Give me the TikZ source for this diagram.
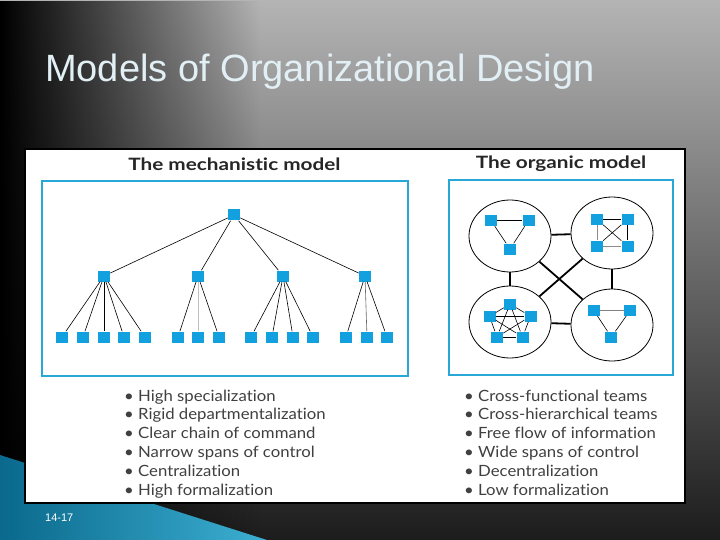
\documentclass[tikz,border=0pt]{standalone}
\usepackage{fontspec}
\setmainfont{Lato}[Ligatures=NoCommon]
\newfontfamily\titlefont{Liberation Sans}
\newfontfamily\headfont{Lato}[FakeStretch=1.22,Ligatures=NoCommon]
\newfontfamily\listfont{Lato}[FakeStretch=1.08,Ligatures=NoCommon]
\usetikzlibrary{shapes.geometric,fadings}
\definecolor{sqblue}{RGB}{18,160,222}
\definecolor{frameblue}{RGB}{40,168,214}
\definecolor{titlecol}{RGB}{226,240,246}
\definecolor{bgtop}{RGB}{180,180,180}
\definecolor{bgmid}{RGB}{130,130,130}
\definecolor{bgbot}{RGB}{28,28,28}
\definecolor{tealdark}{RGB}{10,105,140}
\definecolor{teallight}{RGB}{60,175,210}

\begin{document}
\begin{tikzpicture}[
x=1pt,y=-1pt,
sq/.style={rectangle,fill=sqblue,inner sep=0pt,minimum width=12pt,minimum height=11pt},
cl/.style={ellipse,draw,line width=0.8pt,minimum width=82pt,minimum height=72pt,inner sep=0pt},
edge/.style={line width=0.6pt},
link/.style={line width=1.8pt},
hd/.style={font=\headfont\bfseries\fontsize{17}{19}\selectfont,text=black!85},
item/.style={anchor=base west,font=\listfont\fontsize{15.5}{18}\selectfont,text=black!75,inner sep=0pt}
]
% slide background
\shade[top color=bgtop,middle color=bgmid,bottom color=bgbot] (0,0) rectangle (720,540);
\fill[black,path fading=east] (0,0) rectangle (260,540);
\shade[left color=tealdark,right color=teallight] (0,455) -- (267,540) -- (0,540) -- cycle;
\node[anchor=base west,font=\titlefont\fontsize{38}{40}\selectfont,text=titlecol,inner sep=0pt] (title) at (45,82) {Models of Organizational Design};
\node[anchor=base west,font=\titlefont\fontsize{11}{12}\selectfont,text=white,inner sep=0pt] (pg) at (45,521) {14-17};
% white panel
\draw[fill=white,line width=2pt] (25,149) rectangle (685,503);
\node[hd] (mhead) at (234.5,164) {The mechanistic model};
\node[hd] (ohead) at (561,164) {The organic model};
\draw[frameblue,line width=1.5pt] (42,181) rectangle (408,376);
\draw[frameblue,line width=1.5pt] (449,180) rectangle (673,375);
% mechanistic model
\node[sq] (top) at (234,215) {};
\node[sq] (m1) at (104,276) {};
\node[sq] (m2) at (198,276) {};
\node[sq] (m3) at (283,276) {};
\node[sq] (m4) at (365,276) {};
\node[sq] (b1) at (62,337) {};
\node[sq] (b2) at (83,337) {};
\node[sq] (b3) at (104,337) {};
\node[sq] (b4) at (124,337) {};
\node[sq] (b5) at (145,337) {};
\node[sq] (b6) at (178,337) {};
\node[sq] (b7) at (198,337) {};
\node[sq] (b8) at (219,337) {};
\node[sq] (b9) at (251,337) {};
\node[sq] (b10) at (272,337) {};
\node[sq] (b11) at (293,337) {};
\node[sq] (b12) at (313,337) {};
\node[sq] (b13) at (346,337) {};
\node[sq] (b14) at (367,337) {};
\node[sq] (b15) at (387,337) {};
\draw[edge] (top) -- (m1);
\draw[edge] (top) -- (m2);
\draw[edge] (top) -- (m3);
\draw[edge] (top) -- (m4);
\draw[edge] (m1) -- (b1);
\draw[edge] (m1) -- (b2);
\draw[edge] (m1) -- (b3);
\draw[edge] (m1) -- (b4);
\draw[edge] (m1) -- (b5);
\draw[edge] (m2) -- (b6);
\draw[edge,black!25] (m2) -- (b7);
\draw[edge] (m2) -- (b8);
\draw[edge] (m3) -- (b9);
\draw[edge] (m3) -- (b10);
\draw[edge] (m3) -- (b11);
\draw[edge] (m3) -- (b12);
\draw[edge] (m4) -- (b13);
\draw[edge,black!60] (m4) -- (b14);
\draw[edge] (m4) -- (b15);
% organic model
\node[cl] (c1) at (510,236) {};
\node[cl] (c2) at (612,233) {};
\node[cl] (c3) at (510,322) {};
\node[cl] (c4) at (612,325) {};
\draw[link] (c1) -- (c2);
\draw[link] (c3) -- (c4);
\draw[link] (c1) -- (c3);
\draw[link] (c2) -- (c4);
\draw[link] (c1) -- (c4);
\draw[link] (c2) -- (c3);
\node[sq] (p1) at (491,220.5) {};
\node[sq] (p2) at (528.5,220.5) {};
\node[sq] (p3) at (510,249) {};
\draw[edge] (p1) -- (p2);
\draw[edge] (p1) -- (p3);
\draw[edge] (p2) -- (p3);
\node[sq] (q1) at (597,219.5) {};
\node[sq] (q2) at (627.5,219.5) {};
\node[sq] (q3) at (597,246) {};
\node[sq] (q4) at (627.5,246) {};
\draw[edge] (q1) -- (q2);
\draw[edge] (q2) -- (q4);
\draw[edge,black!45] (q1) -- (q3);
\draw[edge,black!45] (q3) -- (q4);
\draw[edge] (q1) -- (q4);
\draw[edge] (q2) -- (q3);
\node[sq] (r1) at (510,304) {};
\node[sq] (r2) at (489.5,316.3) {};
\node[sq] (r3) at (530.5,316.3) {};
\node[sq] (r4) at (497,337) {};
\node[sq] (r5) at (522.5,337) {};
\draw[edge] (r1) -- (r2);
\draw[edge] (r1) -- (r3);
\draw[edge] (r1) -- (r4);
\draw[edge] (r1) -- (r5);
\draw[edge] (r2) -- (r3);
\draw[edge] (r2) -- (r4);
\draw[edge] (r2) -- (r5);
\draw[edge] (r3) -- (r4);
\draw[edge] (r3) -- (r5);
\draw[edge] (r4) -- (r5);
\node[sq] (s1) at (593.7,310.3) {};
\node[sq] (s2) at (630.3,310.3) {};
\node[sq] (s3) at (611.3,337) {};
\draw[edge,black!50] (s1) -- (s2);
\draw[edge] (s1) -- (s3);
\draw[edge] (s2) -- (s3);
% feature lists
\node[item] (l1) at (124,401) {• High specialization};
\node[item] (l2) at (124,419.8) {• Rigid departmentalization};
\node[item] (l3) at (124,438.6) {• Clear chain of command};
\node[item] (l4) at (124,457.4) {• Narrow spans of control};
\node[item] (l5) at (124,476.2) {• Centralization};
\node[item] (l6) at (124,495) {• High formalization};
\node[item] (r1t) at (464,401) {• Cross-functional teams};
\node[item] (r2t) at (464,419.8) {• Cross-hierarchical teams};
\node[item] (r3t) at (464,438.6) {• Free flow of information};
\node[item] (r4t) at (464,457.4) {• Wide spans of control};
\node[item] (r5t) at (464,476.2) {• Decentralization};
\node[item] (r6t) at (464,495) {• Low formalization};
\end{tikzpicture}
\end{document}
